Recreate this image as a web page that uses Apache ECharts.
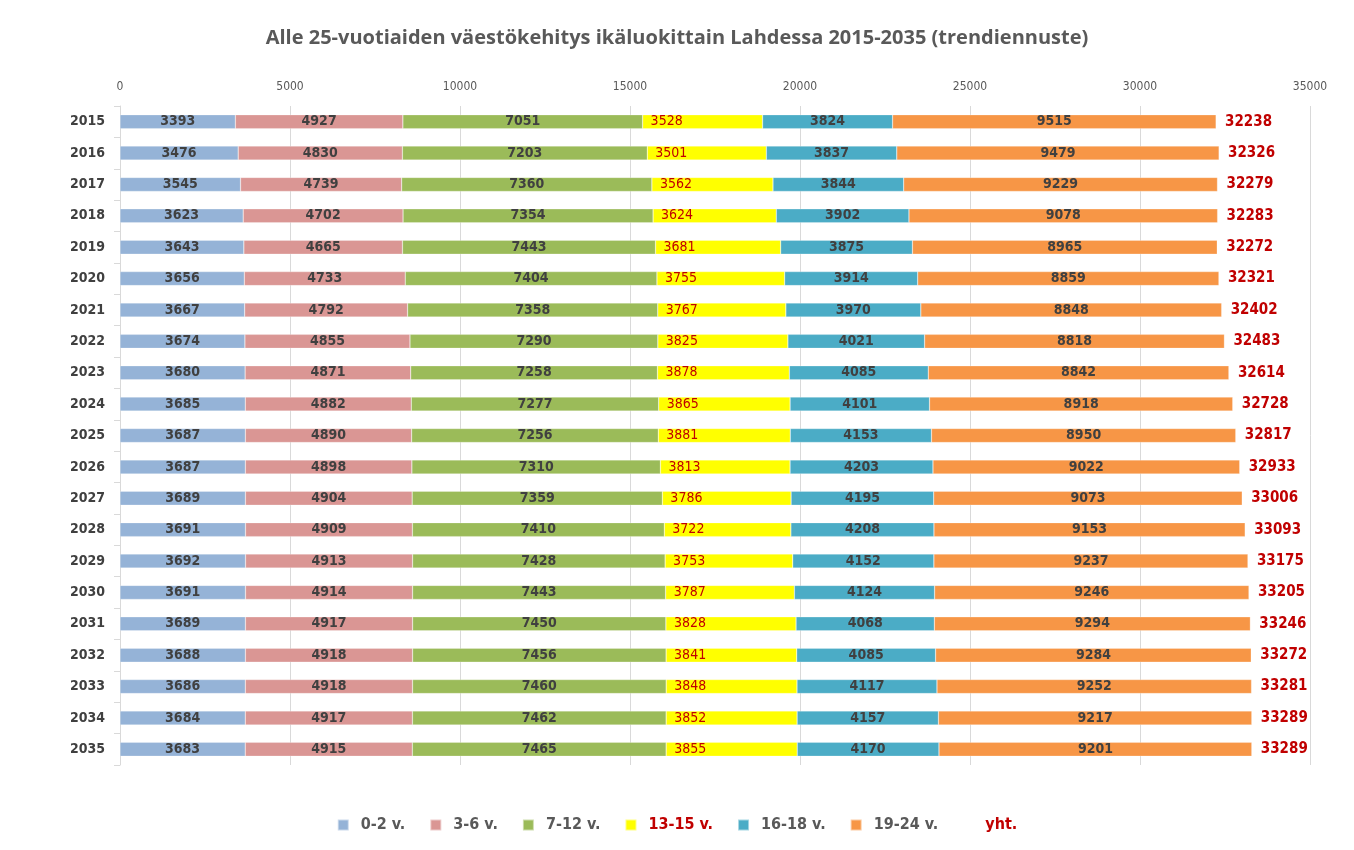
<!DOCTYPE html>
<html><head><meta charset="utf-8">
<script src="https://cdn.jsdelivr.net/npm/echarts@6/dist/echarts.min.js"></script>
<style>html,body{margin:0;padding:0;background:#fff}#c{width:1354px;height:850px}</style>
</head><body><div id="c"></div>
<script>
var years = ['2015','2016','2017','2018','2019','2020','2021','2022','2023','2024','2025','2026','2027','2028','2029','2030','2031','2032','2033','2034','2035'];
var age0_2 = [3393,3476,3545,3623,3643,3656,3667,3674,3680,3685,3687,3687,3689,3691,3692,3691,3689,3688,3686,3684,3683];
var age3_6 = [4927,4830,4739,4702,4665,4733,4792,4855,4871,4882,4890,4898,4904,4909,4913,4914,4917,4918,4918,4917,4915];
var age7_12 = [7051,7203,7360,7354,7443,7404,7358,7290,7258,7277,7256,7310,7359,7410,7428,7443,7450,7456,7460,7462,7465];
var age13_15 = [3528,3501,3562,3624,3681,3755,3767,3825,3878,3865,3881,3813,3786,3722,3753,3787,3828,3841,3848,3852,3855];
var age16_18 = [3824,3837,3844,3902,3875,3914,3970,4021,4085,4101,4153,4203,4195,4208,4152,4124,4068,4085,4117,4157,4170];
var age19_24 = [9515,9479,9229,9078,8965,8859,8848,8818,8842,8918,8950,9022,9073,9153,9237,9246,9294,9284,9252,9217,9201];
var totals = [32238,32326,32279,32283,32272,32321,32402,32483,32614,32728,32817,32933,33006,33093,33175,33205,33246,33272,33281,33289,33289];
var xTicks = [0,5000,10000,15000,20000,25000,30000,35000];

var FONT = '"DejaVu Sans Condensed","Liberation Sans Narrow",sans-serif';
var dark = '#404040';
function seg(name, data, color, lblColor, bold, pos) {
  return {
    name: name, type: 'bar', stack: 'a', data: data, barWidth: 14,
    itemStyle: {color: color, borderColor: 'rgba(255,255,255,0.5)', borderWidth: 0.5},
    label: {show: true, position: pos || 'inside', distance: 8, color: lblColor,
      fontFamily: FONT, fontSize: 14, fontWeight: bold ? 'bold' : 'normal'},
    emphasis: {disabled: true}, animation: false
  };
}
var chart = echarts.init(document.getElementById('c'), null, {renderer: 'canvas'});
chart.setOption({
  animation: false,
  backgroundColor: '#fff',
  title: {text: 'Alle 25-vuotiaiden väestökehitys ikäluokittain Lahdessa 2015-2035 (trendiennuste)',
    left: 'center', top: 23,
    textStyle: {fontFamily: '"Open Sans",sans-serif', fontSize: 20, fontWeight: 'bold', color: '#595959'}},
  grid: {left: 120, right: 44, top: 106, bottom: 85, containLabel: false},
  legend: {bottom: 12, left: 'center', itemWidth: 11, itemHeight: 11, itemGap: 24,
    icon: 'rect',
    textStyle: {fontFamily: FONT, fontSize: 16, fontWeight: 'bold', color: '#595959', padding: [0, 0, 0, 7]},
    data: [
      {name: '0-2 v.'}, {name: '3-6 v.'}, {name: '7-12 v.'},
      {name: '13-15 v.', textStyle: {color: '#c00000'}},
      {name: '16-18 v.'}, {name: '19-24 v.'},
      {name: 'yht.', itemStyle: {color: 'rgba(0,0,0,0)'}, textStyle: {color: '#c00000'}}
    ]},
  xAxis: {type: 'value', position: 'top', min: xTicks[0], max: xTicks[xTicks.length-1], interval: 5000,
    axisLine: {show: false}, axisTick: {show: false},
    axisLabel: {color: '#595959', fontFamily: FONT, fontSize: 12, margin: 13,
      formatter: function (v) { return String(v); }},
    splitLine: {lineStyle: {color: '#d9d9d9', width: 1}}},
  yAxis: {type: 'category', data: years, inverse: true,
    axisLine: {show: true, lineStyle: {color: '#d9d9d9'}},
    axisTick: {show: true, length: 6, lineStyle: {color: '#d9d9d9'}},
    axisLabel: {color: dark, fontFamily: FONT, fontSize: 14, fontWeight: 'bold', margin: 15}},
  series: [
    seg('0-2 v.', age0_2, '#95b3d7', dark, true),
    seg('3-6 v.', age3_6, '#da9694', dark, true),
    seg('7-12 v.', age7_12, '#9bbb59', dark, true),
    seg('13-15 v.', age13_15, '#ffff00', '#c00000', false, 'insideLeft'),
    seg('16-18 v.', age16_18, '#4bacc6', dark, true),
    seg('19-24 v.', age19_24, '#f79646', dark, true),
    {name: 'yht.', type: 'bar', data: totals, barWidth: 14, barGap: '-100%', z: 1,
      itemStyle: {color: 'rgba(0,0,0,0)'},
      label: {show: true, position: 'right', distance: 9, color: '#c00000',
        fontFamily: FONT, fontSize: 15, fontWeight: 'bold'},
      emphasis: {disabled: true}}
  ]
});
</script></body></html>
